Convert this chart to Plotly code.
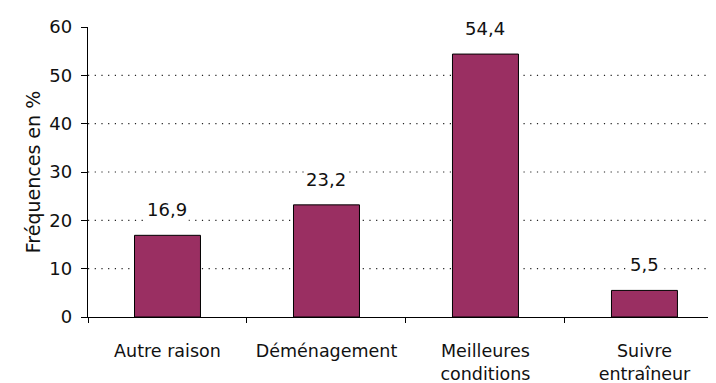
import plotly.graph_objects as go

categories = ["Autre raison", "Déménagement", "Meilleures<br>conditions", "Suivre<br>entraîneur"]
values = [16.9, 23.2, 54.4, 5.5]
value_labels = ["16,9", "23,2", "54,4", "5,5"]
y_ticks = [0, 10, 20, 30, 40, 50, 60]
grid_values = [10, 20, 30, 40, 50]

FONT = "DejaVu Sans"

fig = go.Figure()
fig.add_trace(go.Bar(
    x=categories, y=values, width=0.415,
    marker=dict(color="#9A2F62", line=dict(color="black", width=1)),
    hoverinfo="skip",
))

for g in grid_values:
    fig.add_shape(type="line", xref="paper", x0=0, x1=1, yref="y", y0=g, y1=g,
                  line=dict(color="#222", width=1.2, dash="1.2px,5.5px"), layer="below")

for c, v, t in zip(categories, values, value_labels):
    fig.add_annotation(x=c, y=v, text=t, showarrow=False, yanchor="bottom", yshift=13,
                       bgcolor="white", borderpad=1,
                       font=dict(family=FONT, size=18, color="#111"))

fig.update_layout(
    width=708, height=375,
    margin=dict(l=80, r=0, t=19, b=66),
    paper_bgcolor="white", plot_bgcolor="white",
    showlegend=False,
    font=dict(family=FONT, size=17, color="#111"),
    xaxis=dict(
        type="category", range=[-0.5, 3.45], automargin=False,
        showline=True, linecolor="black", linewidth=1.3,
        ticks="outside", ticklen=5, tickcolor="black", tickson="boundaries",
        ticklabelstandoff=18, showgrid=False,
        tickfont=dict(family=FONT, size=17.5, color="#111"),
    ),
    yaxis=dict(
        range=[0, 60], tickvals=y_ticks, automargin=False,
        showline=True, linecolor="black", linewidth=1.3,
        ticks="outside", ticklen=6, tickcolor="black",
        showgrid=False, zeroline=False,
        ticklabelstandoff=5,
        tickfont=dict(family=FONT, size=18, color="#111"),
        title=dict(text="Fréquences en %", standoff=3,
                   font=dict(family=FONT, size=19, color="#111")),
    ),
)

fig.write_html("out.html")
